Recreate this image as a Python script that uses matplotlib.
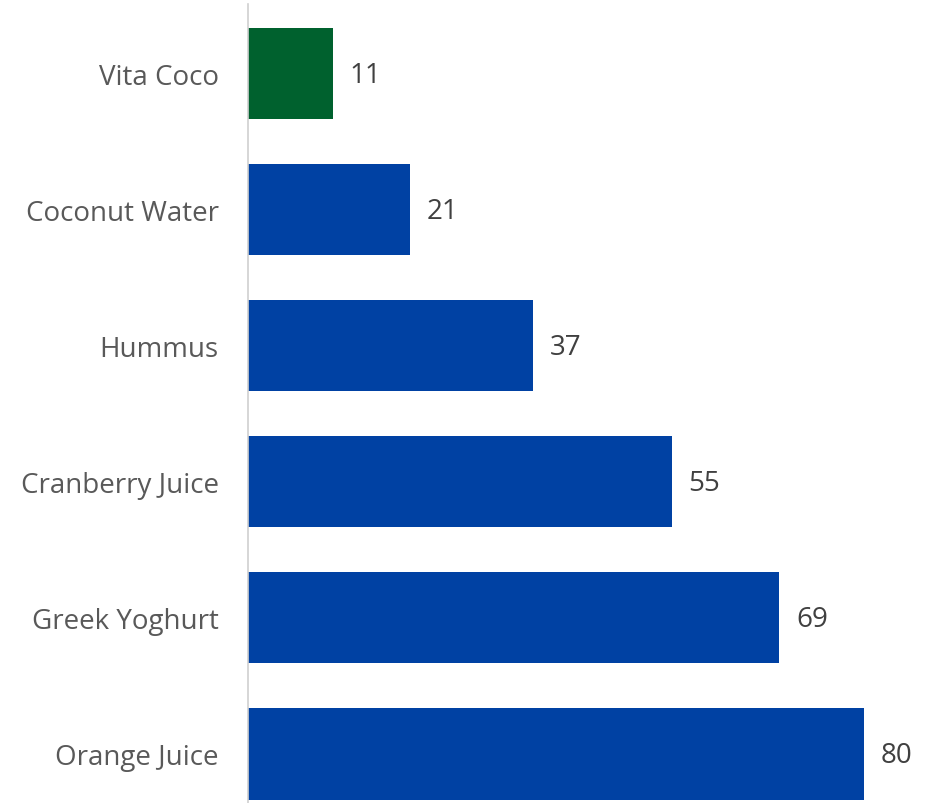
import matplotlib
matplotlib.use("Agg")
import matplotlib.pyplot as plt

categories = ["Orange Juice", "Greek Yoghurt", "Cranberry Juice", "Hummus", "Coconut Water", "Vita Coco"]
values = [80, 69, 55, 37, 21, 11]
colors = ["#0041A3", "#0041A3", "#0041A3", "#0041A3", "#0041A3", "#00612E"]

plt.rcParams['font.family'] = ['Open Sans', 'DejaVu Sans']

fig = plt.figure(figsize=(9.3, 8.04), dpi=100)
ax = fig.add_axes([248/930, 0, 1 - 248/930, 1 - 5/804])

y = range(len(categories))
ax.barh(y, values, height=0.67, color=colors)
for i, v in enumerate(values):
    ax.annotate(str(v), xy=(v, i), xytext=(12, -1), textcoords='offset points',
                va='center', ha='left', fontsize=20, color='#404040')

ax.set_xlim(0, (930 - 248) / 7.7)
ax.set_ylim(-0.36, 5.51)
ax.set_yticks(list(y))
ax.set_yticklabels(categories, fontsize=20, color='#595959')
ax.tick_params(axis='y', length=0, pad=21)
ax.set_xticks([])
for s in ['top', 'right', 'bottom']:
    ax.spines[s].set_visible(False)
ax.spines['left'].set_color('#D0D0D0')
ax.spines['left'].set_linewidth(1.2)

fig.savefig("out.png", dpi=100)
